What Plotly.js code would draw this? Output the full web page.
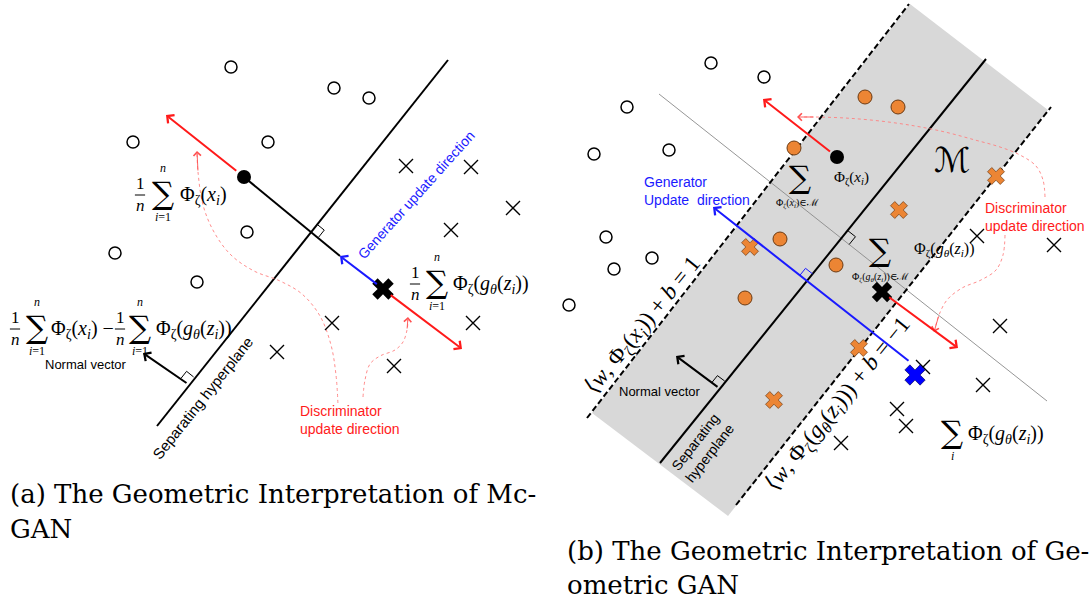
<!DOCTYPE html>
<html><head><meta charset="utf-8">
<script src="https://cdn.plot.ly/plotly-3.0.1.min.js"></script>
<style>html,body{margin:0;padding:0;background:#fff}#chart{width:1089px;height:604px}</style>
</head><body><div id="chart"></div>
<script>
// ================= DATA =================
// ---- panel (a): McGAN ----
const aRealX = [231, 334, 369, 133, 268, 247, 115, 197];
const aRealY = [67, 88, 98, 142, 142, 232, 253, 282];
const aFakeX = [406, 471, 513, 451, 332, 473, 277, 394];
const aFakeY = [166, 167, 208, 230, 323, 323, 352, 366];
const aRealMean = [244, 177];
const aFakeMean = [383, 289];
const aHyper = [[157, 426], [448, 60]];
const aNormal = [[188, 384], [143, 353]];
const aGenTip = [340, 256];
const aDiscUpTip = [166, 115];
const aDiscDownTip = [462, 349];
const aCurve1X = [197, 198, 203, 214, 231, 254, 280, 302, 320, 331, 336, 338];
const aCurve1Y = [154, 172, 205, 232, 255, 271, 281, 294, 316, 345, 375, 405];
const aCurve2X = [363, 365, 370, 380, 395, 403, 407, 408];
const aCurve2Y = [397, 380, 364, 356, 350, 342, 330, 320];

// ---- panel (b): Geometric GAN ----
const bRealX = [711, 764, 627, 669, 594, 606, 652, 614, 569];
const bRealY = [63, 77, 107, 150, 154, 237, 258, 269, 305];
const bFakeX = [977, 1054, 1000, 923, 983, 897, 906, 841];
const bFakeY = [236, 245, 326, 367, 385, 409, 426, 443];
const bSVRealX = [865, 898, 794, 780, 836, 745];
const bSVRealY = [97, 107, 148, 239, 265, 298];
const bSVFakeX = [750, 899, 996, 859, 774];
const bSVFakeY = [247, 210, 176, 348, 400];
const bRealMean = [837, 157];
const bFakeMean = [882, 292];
const bFakeSum = [915, 375];
const bBandX = [910, 1048, 728, 592];
const bBandY = [4, 110, 516, 413];
const bHyper = [[660, 463], [986, 59]];
const bMarginPos = [[587, 418], [909, 4]];
const bMarginNeg = [[736, 505], [1051, 107]];
const bPerp = [[659, 94], [1047, 401]];
const bGen = [[910, 362], [713, 207]];
const bNormal = [[719, 388], [676, 356]];
const bDiscUpTip = [763, 99];
const bDiscDownTip = [958, 348];
const bCurve1X = [1045, 1043, 1036, 1020, 1000, 975, 945, 915, 880, 845, 815, 801];
const bCurve1Y = [197, 180, 166, 155, 147, 140, 132, 126, 121, 118, 117, 117];
const bCurve2X = [1005, 1003, 996, 981, 962, 947, 939, 935];
const bCurve2Y = [235, 255, 270, 280, 288, 300, 315, 329];

// ---- captions ----
const capA = ["(a) The Geometric Interpretation of Mc-", "GAN"];
const capB = ["(b) The Geometric Interpretation of Ge-", "ometric GAN"];

// ================= HELPERS =================
const SANS = 'Liberation Sans, Arial, sans-serif';
const SERIF = 'Liberation Serif, DejaVu Serif, serif';
const RED = '#ff1a1a', BLUE = '#1a1aff', ORANGE = '#ec8534', OEDGE = '#6b3a12';
const traces = [];
const anns = [];

function unit(p, q) { const dx = q[0]-p[0], dy = q[1]-p[1], L = Math.hypot(dx, dy); return [dx/L, dy/L]; }
function intersect(p1, p2, p3, p4) {
  const d = (p1[0]-p2[0])*(p3[1]-p4[1]) - (p1[1]-p2[1])*(p3[0]-p4[0]);
  const a = p1[0]*p2[1]-p1[1]*p2[0], b = p3[0]*p4[1]-p3[1]*p4[0];
  return [(a*(p3[0]-p4[0]) - (p1[0]-p2[0])*b)/d, (a*(p3[1]-p4[1]) - (p1[1]-p2[1])*b)/d];
}
function line(xs, ys, color, width, dash, extra) {
  traces.push(Object.assign({x: xs, y: ys, mode: 'lines', hoverinfo: 'skip',
    line: {color: color, width: width, dash: dash || 'solid'}}, extra || {}));
}
function square(I, d1, d2, s, color) {
  const p1 = [I[0]+s*d1[0], I[1]+s*d1[1]];
  const p2 = [p1[0]+s*d2[0], p1[1]+s*d2[1]];
  const p3 = [I[0]+s*d2[0], I[1]+s*d2[1]];
  line([p1[0], p2[0], p3[0]], [p1[1], p2[1], p3[1]], color, 1);
}
function markers(xs, ys, marker) {
  traces.push({x: xs, y: ys, mode: 'markers', hoverinfo: 'skip', marker: marker});
}
function arrow(tail, tip, color, width, size) {
  anns.push({x: tip[0], y: tip[1], ax: tail[0], ay: tail[1], xref: 'x', yref: 'y', axref: 'x', ayref: 'y',
    text: '', showarrow: true, arrowhead: 4, arrowsize: size || 1, arrowwidth: width, arrowcolor: color, standoff: 0});
}
function txt(x, y, text, size, opt) {
  opt = opt || {};
  anns.push({x: x, y: y, xref: 'x', yref: 'y', text: text, showarrow: false,
    xanchor: opt.xanchor || 'center', yanchor: opt.yanchor || 'middle', align: opt.align || 'center',
    textangle: opt.angle || 0,
    font: {family: opt.family || SERIF, size: size, color: opt.color || '#000'}});
}
const fracBars = {x: [], y: []};
function frac(x, y, size) {
  txt(x, y, '1<br><i>n</i>', size);
  fracBars.x.push(x - size*0.3, x + size*0.3, null);
  fracBars.y.push(y + 1, y + 1, null);
}
function sigma(x, y, upper, lower) {
  txt(x, y, '∑', 31, {family: 'DejaVu Serif, serif'});
  if (upper) txt(x, y - 25, upper, 12);
  if (lower) txt(x, y + 24, lower, 12);
}
const phiX = 'Φ<sub>ζ</sub>(<i>x<sub>i</sub></i>)';
const phiG = 'Φ<sub>ζ</sub>(<i>g<sub>θ</sub></i>(<i>z<sub>i</sub></i>))';

// ================= PANEL (a) =================
line([aHyper[0][0], aHyper[1][0]], [aHyper[0][1], aHyper[1][1]], '#000', 2);
line([aRealMean[0], aGenTip[0]], [aRealMean[1], aGenTip[1]], '#000', 2);
{
  const u = unit(aHyper[0], aHyper[1]);
  const v = unit(aRealMean, aFakeMean);
  const I = intersect(aHyper[0], aHyper[1], aRealMean, aFakeMean);
  square(I, u, v, 9, '#000');
  square(aNormal[0], u, [-v[0], -v[1]], 9, '#000');
}
const dotted = {color: '#ff8080', width: 0.9, dash: 'dot', shape: 'spline'};
line(aCurve1X, aCurve1Y, '', 0, '', {line: dotted});
line(aCurve2X, aCurve2Y, '', 0, '', {line: dotted});
arrow([aCurve1X[1], aCurve1Y[1]], [aCurve1X[0], aCurve1Y[0] - 3], '#ff5050', 0.9, 1.6);
arrow([aCurve2X[6], aCurve2Y[6]], [aCurve2X[7], aCurve2Y[7] - 3], '#ff5050', 0.9, 1.6);

arrow(aNormal[0], aNormal[1], '#000', 2, 1);
{
  const v = unit(aRealMean, aFakeMean);
  arrow([aRealMean[0] - 8*v[0], aRealMean[1] - 8*v[1]], aDiscUpTip, RED, 2, 1);
  arrow([aFakeMean[0] - 6*v[0], aFakeMean[1] - 6*v[1]], aGenTip, BLUE, 2, 1);
  arrow([aFakeMean[0] + 8*v[0], aFakeMean[1] + 8*v[1]], aDiscDownTip, RED, 2, 1);
}
markers(aRealX, aRealY, {symbol: 'circle-open', size: 12, color: '#000', line: {width: 1.5}});
markers(aFakeX, aFakeY, {symbol: 'x-thin-open', size: 14, color: '#000', line: {width: 1.4}});
markers([aRealMean[0]], [aRealMean[1]], {symbol: 'circle', size: 14, color: '#000'});
markers([aFakeMean[0]], [aFakeMean[1]], {symbol: 'x', size: 19, color: '#000', line: {width: 0}});

// labels (a)
frac(140, 194, 17); sigma(163, 193, '<i>n</i>', '<i>i</i>=1');
txt(178, 195, phiX, 20, {xanchor: 'left'});
frac(415, 283, 17); sigma(437, 282, '<i>n</i>', '<i>i</i>=1');
txt(451, 284, phiG, 20, {xanchor: 'left'});
frac(15, 328, 17); sigma(37, 327, '<i>n</i>', '<i>i</i>=1');
txt(49, 329, phiX + ' −', 20, {xanchor: 'left'});
frac(120, 328, 17); sigma(140, 327, '<i>n</i>', '<i>i</i>=1');
txt(154, 329, phiG, 20, {xanchor: 'left'});
txt(86, 364, 'Normal vector', 13, {family: SANS});
txt(202, 398, 'Separating hyperplane', 15, {family: SANS, angle: -51.5});
txt(416, 195, 'Generator update direction', 14, {family: SANS, angle: -48, color: BLUE});
txt(298, 420, 'Discriminator<br>update direction', 14, {family: SANS, color: RED, xanchor: 'left', align: 'left'});

// ================= PANEL (b) =================
traces.push({x: bBandX, y: bBandY, mode: 'lines', fill: 'toself', fillcolor: '#d8d8d8', line: {width: 0}, hoverinfo: 'skip'});
line([bPerp[0][0], bPerp[1][0]], [bPerp[0][1], bPerp[1][1]], '#8a8a8a', 0.9);
line([bMarginPos[0][0], bMarginPos[1][0]], [bMarginPos[0][1], bMarginPos[1][1]], '#000', 2, '6px,3px');
line([bMarginNeg[0][0], bMarginNeg[1][0]], [bMarginNeg[0][1], bMarginNeg[1][1]], '#000', 2, '6px,3px');
line([bHyper[0][0], bHyper[1][0]], [bHyper[0][1], bHyper[1][1]], '#000', 2);
{
  const u = unit(bHyper[0], bHyper[1]);
  const g = unit(bPerp[0], bPerp[1]);
  const I1 = intersect(bHyper[0], bHyper[1], bPerp[0], bPerp[1]);
  square(I1, u, g, 10, '#000');
  const w = unit(bGen[0], bGen[1]);
  const I2 = intersect(bHyper[0], bHyper[1], bGen[0], bGen[1]);
  square(I2, u, w, 9, BLUE);
  const nv = unit(bNormal[0], bNormal[1]);
  square(bNormal[0], u, nv, 9, '#000');
}
line(bCurve1X, bCurve1Y, '', 0, '', {line: dotted});
line(bCurve2X, bCurve2Y, '', 0, '', {line: dotted});
arrow([bCurve1X[10], bCurve1Y[10]], [bCurve1X[11] - 4, bCurve1Y[11]], '#ff5050', 0.9, 1.6);
arrow([bCurve2X[6], bCurve2Y[6]], [bCurve2X[7] - 1, bCurve2Y[7] + 3], '#ff5050', 0.9, 1.6);

arrow(bNormal[0], bNormal[1], '#000', 2, 1);
arrow(bGen[0], bGen[1], BLUE, 2, 1);
{
  const v = unit(bFakeMean, bDiscDownTip);
  arrow([bFakeMean[0] + 7*v[0], bFakeMean[1] + 7*v[1]], bDiscDownTip, RED, 2, 1);
  const r = unit(bRealMean, bDiscUpTip);
  arrow([bRealMean[0] + 7*r[0], bRealMean[1] + 7*r[1]], bDiscUpTip, RED, 2, 1);
}
markers(bRealX, bRealY, {symbol: 'circle-open', size: 12, color: '#000', line: {width: 1.5}});
markers(bFakeX, bFakeY, {symbol: 'x-thin-open', size: 14, color: '#000', line: {width: 1.4}});
markers(bSVRealX, bSVRealY, {symbol: 'circle', size: 14, color: ORANGE, line: {color: OEDGE, width: 1}});
markers(bSVFakeX, bSVFakeY, {symbol: 'x', size: 15, color: ORANGE, line: {color: OEDGE, width: 0.7}});
markers([bRealMean[0]], [bRealMean[1]], {symbol: 'circle', size: 14, color: '#000'});
markers([bFakeMean[0]], [bFakeMean[1]], {symbol: 'x', size: 18, color: '#000', line: {width: 0}});
markers([bFakeSum[0]], [bFakeSum[1]], {symbol: 'x', size: 18, color: '#0000ff', line: {color: '#000044', width: 0.6}});
traces.push({x: fracBars.x, y: fracBars.y, mode: 'lines', line: {color: '#000', width: 1}, hoverinfo: 'skip'});

// labels (b)
txt(952, 160, 'ℳ', 34, {family: 'DejaVu Serif, DejaVu Sans, serif'});
txt(851, 178, phiX, 15);
sigma(800, 177, null, null);
txt(797, 203, 'Φ<sub>ζ</sub>(<i>x<sub>i</sub></i>)∈ℳ', 10);
sigma(880, 250, null, null);
txt(880, 277, 'Φ<sub>ζ</sub>(<i>g<sub>θ</sub></i>(<i>z<sub>i</sub></i>))∈ℳ', 10);
txt(944, 250, phiG, 16);
sigma(952, 432, null, '<i>i</i>');
txt(966, 434, phiG, 20, {xanchor: 'left'});
txt(642, 191, 'Generator<br>Update\u00a0 direction', 14, {family: SANS, color: BLUE, xanchor: 'left', align: 'left'});
txt(983, 217, 'Discriminator<br>update direction', 14, {family: SANS, color: RED, xanchor: 'left', align: 'left'});
txt(660, 391, 'Normal vector', 13, {family: SANS});
txt(702, 448, 'Separating<br>hyperplane', 14, {family: SANS, angle: -52});
txt(643, 326, '⟨<i>w</i>, Φ<sub>ζ</sub>(<i>x<sub>i</sub></i>)) + <i>b</i> = 1', 23, {angle: -51});
txt(838, 405, '⟨<i>w</i>, Φ<sub>ζ</sub>(<i>g<sub>θ</sub></i>(<i>z<sub>i</sub></i>))) + <i>b</i> = −1', 23, {angle: -51});

// captions
const CAP = 'DejaVu Serif, serif';
txt(8, 494, capA[0], 26, {family: CAP, xanchor: 'left'});
txt(8, 529, capA[1], 26, {family: CAP, xanchor: 'left'});
txt(565, 551, capB[0], 26, {family: CAP, xanchor: 'left'});
txt(565, 585, capB[1], 26, {family: CAP, xanchor: 'left'});

// ================= LAYOUT =================
const layout = {
  width: 1089, height: 604,
  margin: {l: 0, r: 0, t: 0, b: 0, pad: 0},
  paper_bgcolor: '#fff', plot_bgcolor: '#fff',
  showlegend: false,
  xaxis: {range: [0, 1089], visible: false, fixedrange: true},
  yaxis: {range: [604, 0], visible: false, fixedrange: true},
  annotations: anns
};
Plotly.newPlot('chart', traces, layout, {staticPlot: true, displayModeBar: false});
</script>
</body></html>
